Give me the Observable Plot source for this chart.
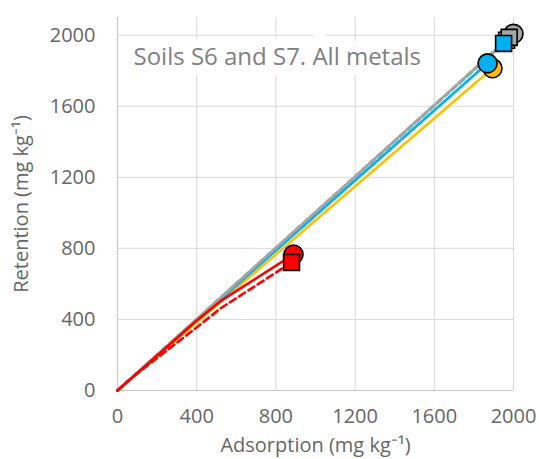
<!DOCTYPE html>
<html>
<head>
<meta charset="utf-8">
<script src="https://cdn.jsdelivr.net/npm/d3@7"></script>
<script src="https://cdn.jsdelivr.net/npm/@observablehq/plot@0.6"></script>
<style>
  html, body { margin: 0; padding: 0; background: #fff; }
  #chart svg { display: block; }
</style>
</head>
<body>
<div id="chart"></div>
<script>
// ---- Data ----
const titleText = "Soils S6 and S7. All metals";
const xLabel = "Adsorption (mg kg\u207B\u00B9)";
const yLabel = "Retention (mg kg\u207B\u00B9)";
const xTicks = [0, 400, 800, 1200, 1600, 2000];
const yTicks = [0, 400, 800, 1200, 1600, 2000];

// series: solid lines end at circles, dashed lines end at squares
const redSolidX = [0, 400, 520, 889];
const redSolidY = [0, 394, 503, 766];
const redDashX = [0, 81, 400, 520, 879];
const redDashY = [0, 80, 355, 462, 721];
const graySolidX = [0, 2000];
const graySolidY = [0, 2008];
const grayDashX = [0, 1978];
const grayDashY = [0, 1988];
const blueSolidX = [0, 1869];
const blueSolidY = [0, 1842];
const blueDashX = [0, 1950];
const blueDashY = [0, 1954];
const yellowSolidX = [0, 1894];
const yellowSolidY = [0, 1814];
const yellowDashX = [0, 1965];
const yellowDashY = [0, 1972];

const colors = {gray: "#A5A5A5", blue: "#00B0F0", yellow: "#FFC000", red: "#FF0000"};

function rows(xs, ys) { return xs.map((x, i) => ({x, y: ys[i]})); }
function last(xs, ys) { return [{x: xs[xs.length - 1], y: ys[ys.length - 1]}]; }

const lineSpecs = [
  {xs: yellowDashX, ys: yellowDashY, c: colors.yellow, dash: "6,4"},
  {xs: blueDashX, ys: blueDashY, c: colors.blue, dash: "6,4"},
  {xs: yellowSolidX, ys: yellowSolidY, c: colors.yellow, dash: null},
  {xs: blueSolidX, ys: blueSolidY, c: colors.blue, dash: null},
  {xs: grayDashX, ys: grayDashY, c: colors.gray, dash: "6,4"},
  {xs: graySolidX, ys: graySolidY, c: colors.gray, dash: null},
  {xs: redDashX, ys: redDashY, c: colors.red, dash: "7,4"},
  {xs: redSolidX, ys: redSolidY, c: colors.red, dash: null}
];

const markerSpecs = [
  {xs: yellowSolidX, ys: yellowSolidY, c: colors.yellow, sym: "circle"},
  {xs: blueSolidX, ys: blueSolidY, c: colors.blue, sym: "circle"},
  {xs: redSolidX, ys: redSolidY, c: colors.red, sym: "circle"},
  {xs: redDashX, ys: redDashY, c: colors.red, sym: "square"},
  {xs: yellowDashX, ys: yellowDashY, c: colors.yellow, sym: "square"},
  {xs: graySolidX, ys: graySolidY, c: colors.gray, sym: "circle"},
  {xs: grayDashX, ys: grayDashY, c: colors.gray, sym: "square"},
  {xs: blueDashX, ys: blueDashY, c: colors.blue, sym: "square"}
];

const font = "'Open Sans', sans-serif";
const textGray = "#666666";

const marks = [
  Plot.gridX(xTicks, {stroke: "#D9D9D9", strokeOpacity: 1, strokeWidth: 1}),
  Plot.gridY(yTicks, {stroke: "#D9D9D9", strokeOpacity: 1, strokeWidth: 1}),
  Plot.ruleX([0], {stroke: "#C8C8C8", strokeWidth: 1.2}),
  Plot.ruleY([0], {stroke: "#C8C8C8", strokeWidth: 1.2}),
  Plot.text([titleText], {
    frameAnchor: "top-left", dx: 16, dy: 40, lineAnchor: "middle", textAnchor: "start",
    fill: "#808080", stroke: "white", strokeWidth: 20, strokeLinejoin: "miter",
    fontSize: 24, fontFamily: font
  }),
  Plot.axisX(xTicks, {tickSize: 0, tickPadding: 18, fontSize: 20, fill: textGray, fontFamily: font,
    tickFormat: d3.format("d"),
    label: xLabel, labelAnchor: "center", labelOffset: 61, labelArrow: "none"}),
  Plot.axisY(yTicks, {tickSize: 0, tickPadding: 22, fontSize: 20, fill: textGray, fontFamily: font,
    tickFormat: d3.format("d"),
    label: yLabel, labelAnchor: "center", labelOffset: 104, labelArrow: "none"})
];

for (const s of lineSpecs) {
  marks.push(Plot.line(rows(s.xs, s.ys), {x: "x", y: "y", stroke: s.c, strokeWidth: 2.6,
    strokeDasharray: s.dash || undefined, curve: "linear"}));
}
for (const s of markerSpecs) {
  marks.push(Plot.dot(last(s.xs, s.ys), {x: "x", y: "y", fill: s.c, stroke: "#000", strokeWidth: 1.6,
    symbol: s.sym, r: s.sym === "circle" ? 9.5 : 9}));
}

const chart = Plot.plot({
  width: 539,
  height: 459,
  marginLeft: 117,
  marginRight: 26,
  marginTop: 17,
  marginBottom: 69,
  style: {fontFamily: font, background: "white", color: textGray, fontSize: "20px"},
  x: {domain: [0, 2000], label: null},
  y: {domain: [0, 2100], label: null},
  marks
});
document.getElementById("chart").appendChild(chart);
</script>
</body>
</html>
